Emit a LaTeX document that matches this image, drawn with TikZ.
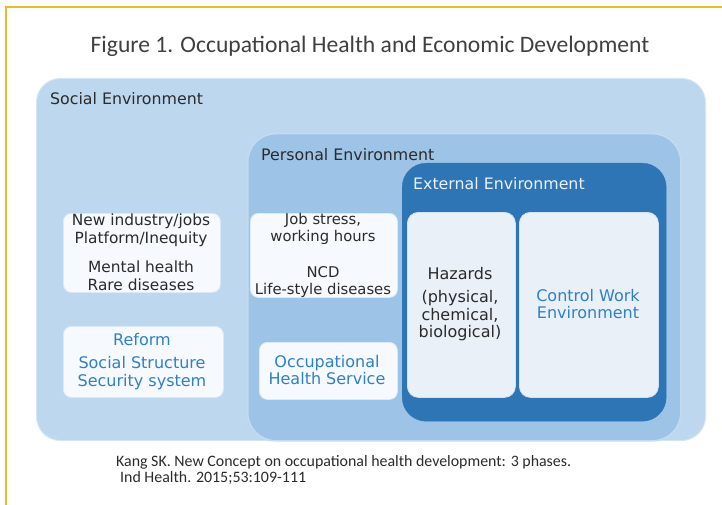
\documentclass[tikz,border=0pt]{standalone}
\usepackage{fontspec}
\setmainfont{DejaVu Sans}
\newfontfamily\carl{Carlito}
\definecolor{outerc}{HTML}{BDD7EE}
\definecolor{outerd}{HTML}{D4E5F5}
\definecolor{persc}{HTML}{9DC3E6}
\definecolor{persd}{HTML}{C3DBF1}
\definecolor{extc}{HTML}{2E75B6}
\definecolor{innerc}{HTML}{EAF0F8}
\definecolor{innerd}{HTML}{D2E1F2}
\definecolor{whc}{HTML}{F6F9FD}
\definecolor{whd}{HTML}{DCE9F6}
\definecolor{bluetxt}{HTML}{2F80C6}
\definecolor{darktxt}{HTML}{2B2B2B}
\definecolor{gold}{HTML}{E6BC2A}
\tikzset{
  region/.style={rectangle, anchor=north west, inner sep=0pt},
  outerbox/.style={region, fill=outerc, draw=outerd, line width=1pt, rounded corners=24pt},
  persbox/.style={region, fill=persc, draw=persd, line width=1.5pt, rounded corners=28pt},
  extbox/.style={region, fill=extc, draw=extc, rounded corners=24pt},
  innerbox/.style={region, fill=innerc, draw=innerd, line width=0.8pt, rounded corners=11pt},
  whitebox/.style={region, fill=whc, draw=whd, line width=0.8pt, rounded corners=8pt},
  lbl/.style={anchor=west, inner sep=0pt, text=darktxt, font=\fontsize{15.8}{18}\selectfont},
  txt/.style={inner sep=0pt, align=center, text=darktxt},
  btxt/.style={inner sep=0pt, align=center, text=bluetxt},
}
\begin{document}
\begin{tikzpicture}[x=1pt,y=-1pt]
\useasboundingbox (0,0) rectangle (722,505);
\fill[white] (0,0) rectangle (722,505);
\draw[gold, line width=2pt] (6,505) -- (6,7) -- (722,7);

\node[txt, text=darktxt!90, font=\carl\fontsize{23.6}{26}\selectfont] (title) at (370,46) {Figure 1. Occupational Health and Economic Development};

\node[outerbox, minimum width=669pt, minimum height=362pt] (social) at (36,78) {};
\node[persbox, minimum width=433pt, minimum height=307pt] (personal) at (247,133) {};
\node[extbox, minimum width=264pt, minimum height=258pt] (external) at (402,163) {};

\node[lbl] (sociallbl) at (50,99) {Social Environment};
\node[lbl] (perslbl) at (261,155) {Personal Environment};
\node[lbl, text=innerc] (extlbl) at (413,184) {External Environment};

% left boxes
\node[whitebox, minimum width=157pt, minimum height=79pt] (left1) at (63,213) {};
\node[whitebox, minimum width=160pt, minimum height=71pt] (left2) at (63,326) {};
\node[txt, font=\fontsize{15.4}{18}\selectfont] (l1a) at (141,230) {New industry/jobs\\Platform/Inequity};
\node[txt, font=\fontsize{15.4}{18}\selectfont] (l1b) at (141,276) {Mental health\\Rare diseases};
\node[btxt, font=\fontsize{16}{18}\selectfont] (l2a) at (142,340) {Reform};
\node[btxt, font=\fontsize{16}{18}\selectfont] (l2b) at (142,373) {Social Structure\\Security system};

% personal boxes
\node[whitebox, minimum width=147pt, minimum height=84pt] (pers1) at (250,213) {};
\node[whitebox, minimum width=138pt, minimum height=57pt] (pers2) at (259,342) {};
\node[txt, font=\fontsize{14.8}{16.5}\selectfont] (p1a) at (323,229) {Job stress,\\working hours};
\node[txt, font=\fontsize{14.8}{16.5}\selectfont] (p1b) at (323,282) {NCD\\Life-style diseases};
\node[btxt, font=\fontsize{16}{17}\selectfont] (p2) at (327,370) {Occupational\\Health Service};

% external boxes
\node[innerbox, minimum width=108pt, minimum height=185pt] (hazards) at (407,212) {};
\node[innerbox, minimum width=139pt, minimum height=185pt] (control) at (519,212) {};
\node[txt, font=\fontsize{16}{18}\selectfont] (hz1) at (460,274) {Hazards};
\node[txt, font=\fontsize{16}{17.5}\selectfont] (hz2) at (460,316) {(physical,\\chemical,\\biological)};
\node[btxt, font=\fontsize{16}{17}\selectfont] (cw) at (588,304) {Control Work\\Environment};

% citation
\node[anchor=west, inner sep=0pt, text=darktxt, font=\carl\fontsize{15.9}{18}\selectfont] (cite1) at (116,462) {Kang SK. New Concept on occupational health development: 3 phases.};
\node[anchor=west, inner sep=0pt, text=darktxt, font=\carl\fontsize{15.9}{18}\selectfont] (cite2) at (120,478) {Ind Health. 2015;53:109-111};
\end{tikzpicture}
\end{document}
